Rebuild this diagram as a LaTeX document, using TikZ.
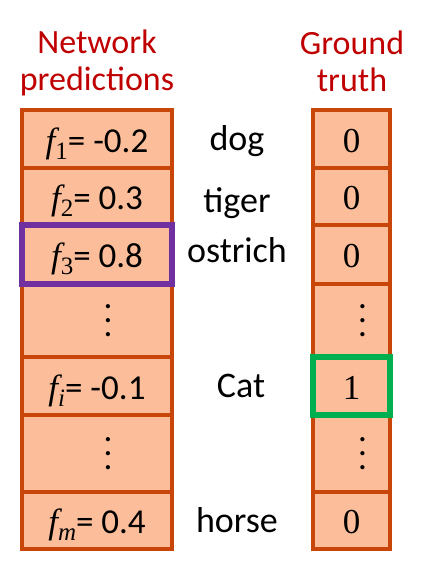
\documentclass[tikz,border=0pt]{standalone}
\usepackage{fontspec}
\setmainfont{Carlito}
\newfontfamily\serifnum{Liberation Serif}
\usetikzlibrary{positioning}
\definecolor{cellfill}{RGB}{252,190,154}
\definecolor{cellline}{RGB}{200,70,10}
\definecolor{hlpurple}{RGB}{112,48,160}
\definecolor{hlgreen}{RGB}{0,176,80}
\definecolor{headred}{RGB}{192,0,0}
\newcommand{\fval}[1]{{\serifnum\itshape f}\raisebox{-7pt}{\serifnum\fontsize{25}{25}\selectfont #1}}
\newcommand{\tallvdots}{\vbox{\baselineskip=14pt\lineskiplimit=0pt\hbox{.}\hbox{.}\hbox{.}}}
\begin{document}
\begin{tikzpicture}[x=1pt, y=-1pt,
  cell/.style={draw=cellline, fill=cellfill, line width=4pt, inner sep=0pt, outer sep=0pt,
    text height=28pt, text depth=2pt, font=\fontsize{35}{38}\selectfont},
  pred/.style={cell, minimum width=150pt},
  truth/.style={cell, minimum width=77pt},
  dotcell/.style={text height=, text depth=},
  word/.style={anchor=base, font=\fontsize{36}{40}\selectfont},
  head/.style={anchor=base, align=center, text=headred, font=\fontsize{34}{37}\selectfont},
  hlbox/.style={line width=5.5pt}]
\useasboundingbox (0,0) rectangle (426,566);
\node[head] (nethead) at (97,90) {Network\\predictions};
\node[head] (gthead) at (352,91) {Ground\\truth};
\node[pred, minimum height=58pt] (p1) at (97,139) {\fval{1}= -0.2};
\node[pred, minimum height=57pt, below=0pt of p1] (p2) {\fval{2}= 0.3};
\node[pred, minimum height=59pt, below=0pt of p2] (p3) {\fval{3}= 0.8};
\node[pred, dotcell, minimum height=73pt, below=0pt of p3] (p4) {\hspace{22pt}\tallvdots};
\node[pred, minimum height=58pt, below=0pt of p4] (p5) {\fval{\itshape i}= -0.1};
\node[pred, dotcell, minimum height=77pt, below=0pt of p5] (p6) {\hspace{22pt}\tallvdots};
\node[pred, minimum height=57pt, below=0pt of p6] (p7) {\fval{\itshape m}= 0.4};
\coordinate (gx) at (351.5,0);
\node[truth, minimum height=58pt] (g1) at (p1 -| gx) {\serifnum 0};
\node[truth, minimum height=57pt] (g2) at (p2 -| gx) {\serifnum 0};
\node[truth, minimum height=59pt] (g3) at (p3 -| gx) {\serifnum 0};
\node[truth, dotcell, minimum height=73pt] (g4) at (p4 -| gx) {\hspace{22pt}\tallvdots};
\node[truth, minimum height=58pt] (g5) at (p5 -| gx) {\serifnum 1};
\node[truth, dotcell, minimum height=77pt] (g6) at (p6 -| gx) {\hspace{22pt}\tallvdots};
\node[truth, minimum height=57pt] (g7) at (p7 -| gx) {\serifnum 0};
\node[word] (dog) at (237,150) {dog};
\node[word] (tiger) at (237,212) {tiger};
\node[word] (ostrich) at (237,262) {ostrich};
\node[word] (cat) at (241,397) {Cat};
\node[word] (horse) at (237,532) {horse};
\draw[hlbox, hlpurple] (p3.north west) rectangle (p3.south east);
\draw[hlbox, hlgreen] (g5.north west) rectangle (g5.south east);
\end{tikzpicture}
\end{document}
